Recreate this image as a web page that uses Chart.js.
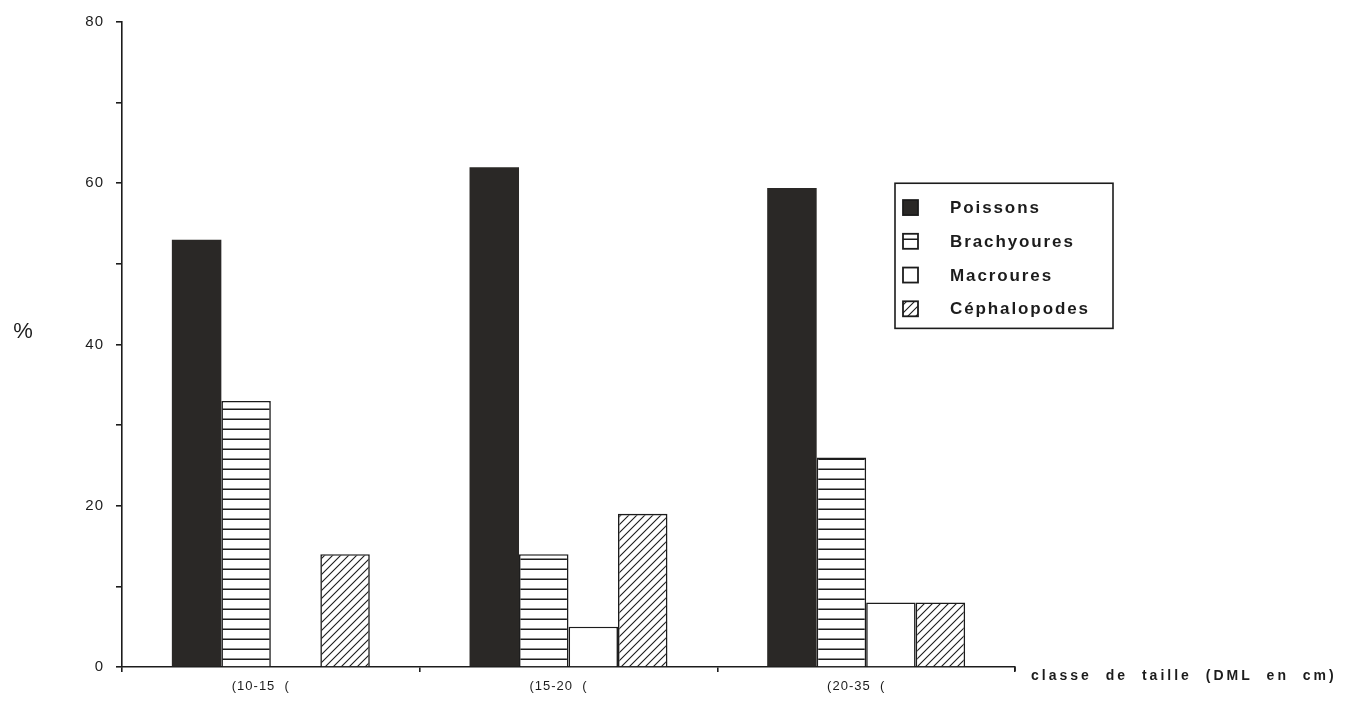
<!DOCTYPE html>
<html>
<head>
<meta charset="utf-8">
<script src="https://cdn.jsdelivr.net/npm/chart.js@4.4.1/dist/chart.umd.min.js"></script>
<style>
  html, body { margin: 0; padding: 0; background: #ffffff; }
  #wrap { width: 1348px; height: 703px; position: relative; }
</style>
</head>
<body>
<div id="wrap"><canvas id="c" width="1348" height="703"></canvas></div>
<script>
// Size classes (dorsal mantle length, cm)
const categories = ['(10-15  (', '(15-20  (', '(20-35  ('];
// Share of each prey group (%)
const poissons = [53, 62, 59.4];
const brachyoures = [33, 14, 26];
const macroures = [0, 5, 8];
const cephalopodes = [14, 19, 8];
const seriesNames = ['Poissons', 'Brachyoures', 'Macroures', 'Céphalopodes'];
const yTicksLabelled = [0, 20, 40, 60, 80];

const INK = '#1c1c1c';
const FONT = '"Liberation Sans", Arial, sans-serif';

function makePattern(kind) {
  const p = document.createElement('canvas');
  const ctx = p.getContext('2d');
  if (kind === 'hlines') {
    p.width = 10; p.height = 10;
    ctx.fillStyle = '#ffffff'; ctx.fillRect(0, 0, 10, 10);
    ctx.fillStyle = INK; ctx.fillRect(0, 8.5, 10, 1.6);
  } else {
    p.width = 8; p.height = 8;
    ctx.fillStyle = '#ffffff'; ctx.fillRect(0, 0, 8, 8);
    ctx.strokeStyle = INK; ctx.lineWidth = 1.1;
    ctx.beginPath();
    ctx.moveTo(-1, 9); ctx.lineTo(9, -1);
    ctx.moveTo(-1, 1); ctx.lineTo(1, -1);
    ctx.moveTo(7, 9); ctx.lineTo(9, 7);
    ctx.stroke();
  }
  return document.createElement('canvas').getContext('2d').createPattern(p, 'repeat');
}

const fills = ['#2a2826', makePattern('hlines'), '#ffffff', makePattern('hatch')];
const seriesData = [poissons, brachyoures, macroures, cephalopodes];

// Wide, typewriter-like spacing for the axis tick labels
const tickSpacing = {
  id: 'tickSpacing',
  beforeLayout(chart) { chart.ctx.letterSpacing = '1px'; },
  beforeDraw(chart) { chart.ctx.letterSpacing = '1px'; }
};

// Boxed legend drawn inside the plot, top edge at the 60 % level
const boxLegend = {
  id: 'boxLegend',
  afterDraw(chart) {
    const { ctx, chartArea, scales } = chart;
    const left = chartArea.right - 120;
    const right = left + 218;
    const top = scales.y.getPixelForValue(60);
    const bottom = scales.y.getPixelForValue(42);
    ctx.save();
    ctx.lineWidth = 1.6;
    ctx.strokeStyle = INK;
    ctx.strokeRect(left, top, right - left, bottom - top);
    const rowH = (bottom - top) / 4.3;
    chart.data.datasets.forEach((ds, i) => {
      const cy = top + rowH * 0.72 + i * rowH;
      const sx = left + 8, sz = 15;
      ctx.fillStyle = ds.backgroundColor;
      ctx.fillRect(sx, cy - sz / 2, sz, sz);
      ctx.lineWidth = 1.8;
      ctx.strokeStyle = INK;
      ctx.strokeRect(sx, cy - sz / 2, sz, sz);
      ctx.fillStyle = INK;
      ctx.font = 'bold 17px ' + FONT;
      ctx.letterSpacing = '1.9px';
      ctx.textBaseline = 'middle';
      ctx.textAlign = 'left';
      ctx.fillText(ds.label, left + 55, cy + 1);
    });
    ctx.restore();
  }
};

// Axis titles: "%" beside the value axis, size-class caption after the end of the base line
const axisCaptions = {
  id: 'axisCaptions',
  afterDraw(chart) {
    const { ctx, chartArea, scales } = chart;
    ctx.save();
    ctx.fillStyle = INK;
    ctx.letterSpacing = '0px';
    ctx.font = '22px ' + FONT;
    ctx.textAlign = 'center';
    ctx.textBaseline = 'middle';
    ctx.fillText('%', 23, scales.y.getPixelForValue(41.6));
    ctx.font = 'bold 14px ' + FONT;
    ctx.letterSpacing = '3px';
    ctx.wordSpacing = '7px';
    ctx.textAlign = 'left';
    ctx.fillText('classe de taille (DML en cm)', chartArea.right + 16, chartArea.bottom + 9);
    // small hook at the end of the base line
    ctx.lineWidth = 1.6;
    ctx.strokeStyle = INK;
    ctx.beginPath();
    ctx.moveTo(chartArea.right, chartArea.bottom);
    ctx.lineTo(chartArea.right, chartArea.bottom + 4);
    ctx.stroke();
    ctx.restore();
  }
};

new Chart(document.getElementById('c'), {
  type: 'bar',
  data: {
    labels: categories,
    datasets: seriesNames.map((name, i) => ({
      label: name,
      data: seriesData[i],
      backgroundColor: fills[i],
      borderColor: INK,
      borderWidth: i === 0 ? 0 : 1.6,
      borderSkipped: 'bottom',
      categoryPercentage: 0.665,
      barPercentage: 1.0
    }))
  },
  options: {
    responsive: false,
    animation: false,
    devicePixelRatio: 1,
    layout: { padding: { left: 0, right: 333, top: 22, bottom: 0 } },
    plugins: { legend: { display: false }, tooltip: { enabled: false } },
    scales: {
      x: {
        afterFit(scale) { scale.height = 36; },
        grid: { display: true, drawOnChartArea: false, drawTicks: true, tickLength: 5, color: INK, lineWidth: 1.6, offset: true },
        border: { display: true, color: INK, width: 1.6 },
        ticks: { color: INK, font: { family: FONT, size: 13 }, padding: 7, labelOffset: -10 }
      },
      y: {
        min: 0, max: 80,
        afterFit(scale) { scale.width = 122; },
        grid: { display: true, drawOnChartArea: false, drawTicks: true, tickLength: 6, color: INK, lineWidth: 1.6 },
        border: { display: true, color: INK, width: 1.6 },
        ticks: {
          stepSize: 10,
          color: INK,
          padding: 12,
          font: { family: FONT, size: 15 },
          callback: (v) => (yTicksLabelled.includes(v) ? String(v) : '')
        }
      }
    }
  },
  plugins: [tickSpacing, boxLegend, axisCaptions]
});
</script>
</body>
</html>
